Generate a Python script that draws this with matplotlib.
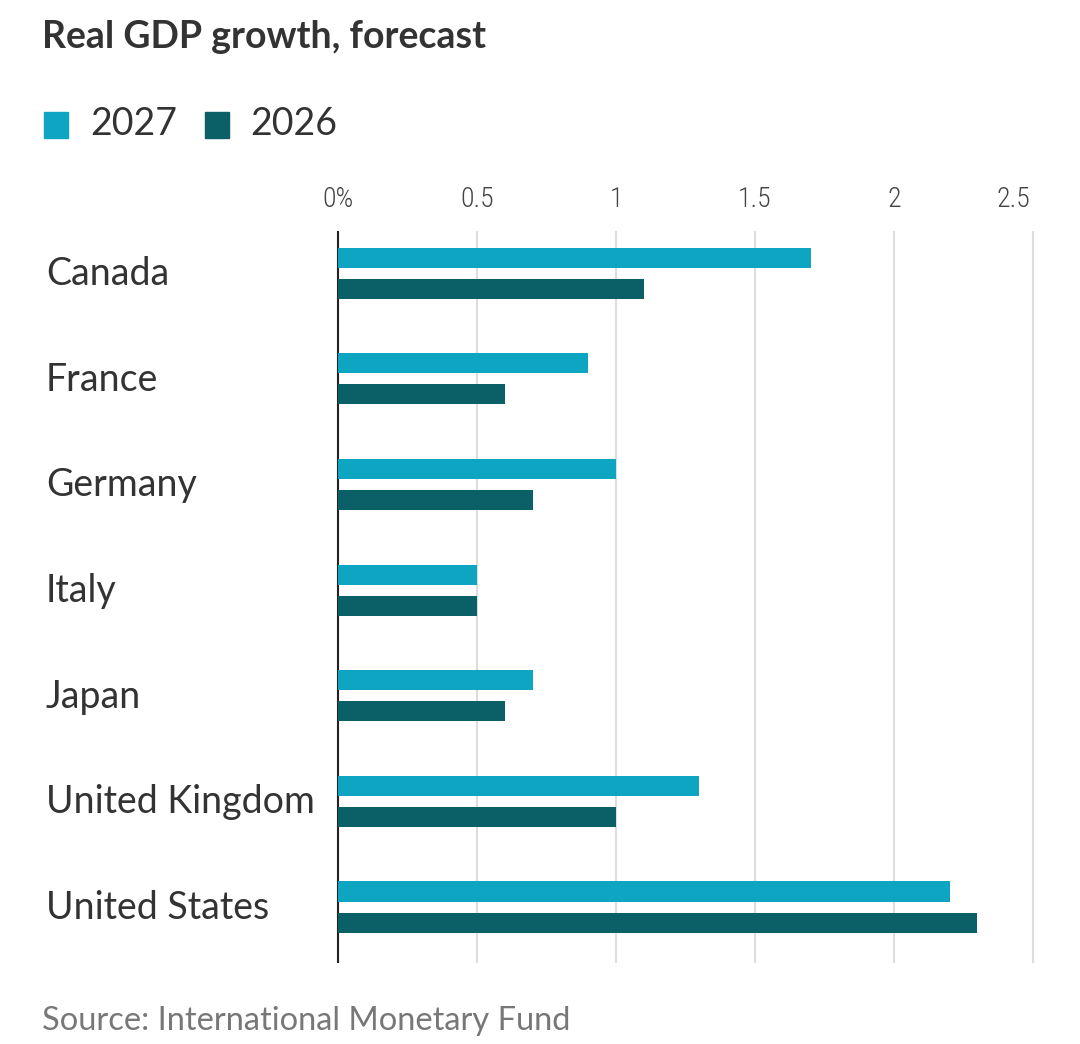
import matplotlib
matplotlib.use("Agg")
import matplotlib.pyplot as plt
import matplotlib.transforms as mtrans
import numpy as np

countries = ["Canada", "France", "Germany", "Italy", "Japan", "United Kingdom", "United States"]
g2027 = [1.7, 0.9, 1.0, 0.5, 0.7, 1.3, 2.2]
g2026 = [1.1, 0.6, 0.7, 0.5, 0.6, 1.0, 2.3]
ticks = [0, 0.5, 1, 1.5, 2, 2.5]
tick_labels = ["0%", "0.5", "1", "1.5", "2", "2.5"]

c27 = "#0ea5c2"
c26 = "#0b5f66"
plt.rcParams['font.family'] = ['Lato', 'DejaVu Sans']

fig = plt.figure(figsize=(10.8, 10.44), dpi=100)
ax = fig.add_axes([338/1080, 1-962/1044, (1033-338)/1080, (962-232)/1044])
y = np.arange(len(countries))
ax.barh(y - 0.147, g2027, height=0.19, color=c27, zorder=3)
ax.barh(y + 0.147, g2026, height=0.19, color=c26, zorder=3)
ax.set_ylim(6.52, -0.39)
ax.set_xlim(0, 2.5)
ax.set_xticks(ticks)
ax.set_xticklabels(tick_labels, fontsize=20, color="#444444", family=["Roboto Condensed", "Roboto", "DejaVu Sans"], fontweight="light")
ax.xaxis.tick_top()
ax.tick_params(axis='x', length=0, pad=14)
lbl = ax.get_xticklabels()[-1]
lbl.set_transform(lbl.get_transform() + mtrans.ScaledTranslation(-0.2, 0, fig.dpi_scale_trans))
ax.set_yticks([])
for t in ticks[1:]:
    ax.axvline(t, color="#dddddd", lw=1.5, zorder=1, clip_on=False)
for s in ["top", "right", "bottom"]:
    ax.spines[s].set_visible(False)
ax.spines["left"].set_color("#222222")
ax.spines["left"].set_linewidth(1.5)
for i, c in enumerate(countries):
    fig.text(46/1080, 1-(274+i*105.7)/1044, c, fontsize=27, color="#333333", va="center", ha="left")

fig.text(42/1080, 1-37/1044, "Real GDP growth, forecast", fontsize=27, fontweight="bold", color="#333333", va="center")
fig.patches.append(plt.Rectangle((44/1080, 1-138/1044), 24/1080, 26/1044, color=c27, transform=fig.transFigure))
fig.text(90/1080, 1-124/1044, "2027", fontsize=27, color="#333333", va="center")
fig.patches.append(plt.Rectangle((205/1080, 1-138/1044), 24/1080, 26/1044, color=c26, transform=fig.transFigure))
fig.text(250/1080, 1-124/1044, "2026", fontsize=27, color="#333333", va="center")
fig.text(42/1080, 1-1021/1044, "Source: International Monetary Fund", fontsize=23.5, color="#777777", va="center")
fig.savefig("out.png", dpi=100, facecolor="white")
